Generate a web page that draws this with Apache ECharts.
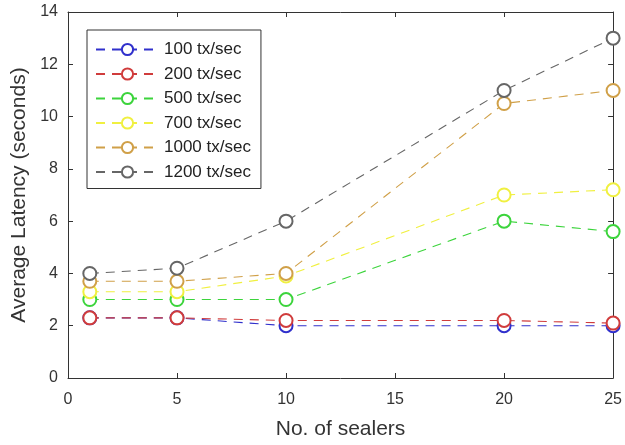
<!DOCTYPE html>
<html><head><meta charset="utf-8">
<script src="https://cdn.jsdelivr.net/npm/echarts@6/dist/echarts.min.js"></script>
<style>html,body{margin:0;padding:0;background:#fff}#c{width:625px;height:445px}</style>
</head><body><div id="c"></div>
<script>
const sealers = [1, 5, 10, 20, 25];
const seriesNames = ['100 tx/sec','200 tx/sec','500 tx/sec','700 tx/sec','1000 tx/sec','1200 tx/sec'];
const lat100  = [2.3, 2.3, 2.0, 2.0, 2.0];
const lat200  = [2.3, 2.3, 2.2, 2.2, 2.1];
const lat500  = [3.0, 3.0, 3.0, 6.0, 5.6];
const lat700  = [3.3, 3.3, 3.9, 7.0, 7.2];
const lat1000 = [3.7, 3.7, 4.0, 10.5, 11.0];
const lat1200 = [4.0, 4.2, 6.0, 11.0, 13.0];
const yTicks = [0,2,4,6,8,10,12,14];
const xTicks = [0,5,10,15,20,25];

const values = [lat100, lat200, lat500, lat700, lat1000, lat1200];
const colors = ['#3030cc','#d03c3c','#3cd43c','#f0f040','#d0a048','#666666'];
const font = 'Liberation Sans, Arial, sans-serif';
const chart = echarts.init(document.getElementById('c'));
function line(){ return {show:true, onZero:false, lineStyle:{color:'#333', width:1}}; }
function tick(){ return {show:true, inside:true, length:5, lineStyle:{color:'#333'}}; }
chart.setOption({
  animation:false,
  grid:{left:68, right:11, top:12, bottom:65},
  legend:{
    orient:'vertical', left:87, top:30, data:seriesNames,
    itemWidth:63, itemHeight:14, itemGap:7.5,
    backgroundColor:'#fff', borderColor:'#333', borderWidth:1,
    padding:[11,10,8,8],
    textStyle:{fontFamily:font, fontSize:17, color:'#222'}
  },
  xAxis:[{
    type:'value', min:0, max:25, interval:5,
    name:'No. of sealers', nameLocation:'middle', nameGap:41,
    nameTextStyle:{fontFamily:font, fontSize:21, color:'#333'},
    axisLine:line(), axisTick:tick(),
    axisLabel:{fontFamily:font, fontSize:16, color:'#333', margin:14,
      formatter:v=>xTicks.includes(v)?String(v):''},
    splitLine:{show:false}
  },{
    type:'value', min:0, max:25, interval:5, position:'top',
    axisLine:line(), axisTick:tick(),
    axisLabel:{show:false}, splitLine:{show:false}
  }],
  yAxis:[{
    type:'value', min:0, max:14, interval:2,
    name:'Average Latency (seconds)', nameLocation:'middle', nameGap:36,
    nameTextStyle:{fontFamily:font, fontSize:21, color:'#333'},
    axisLine:line(), axisTick:tick(),
    axisLabel:{fontFamily:font, fontSize:16, color:'#333', margin:10,
      formatter:v=>yTicks.includes(v)?String(v):''},
    splitLine:{show:false}
  },{
    type:'value', min:0, max:14, interval:2, position:'right',
    axisLine:line(), axisTick:tick(),
    axisLabel:{show:false}, splitLine:{show:false}
  }],
  series: seriesNames.map((n,i)=>({
    name:n, type:'line',
    data: sealers.map((x,j)=>[x, values[i][j]]),
    symbol:'emptyCircle', symbolSize:13,
    itemStyle:{color:colors[i], borderWidth:1.1},
    lineStyle:{color:colors[i], width:1.1, type:[9,7]},
    z: 2+i
  }))
});
</script></body></html>
